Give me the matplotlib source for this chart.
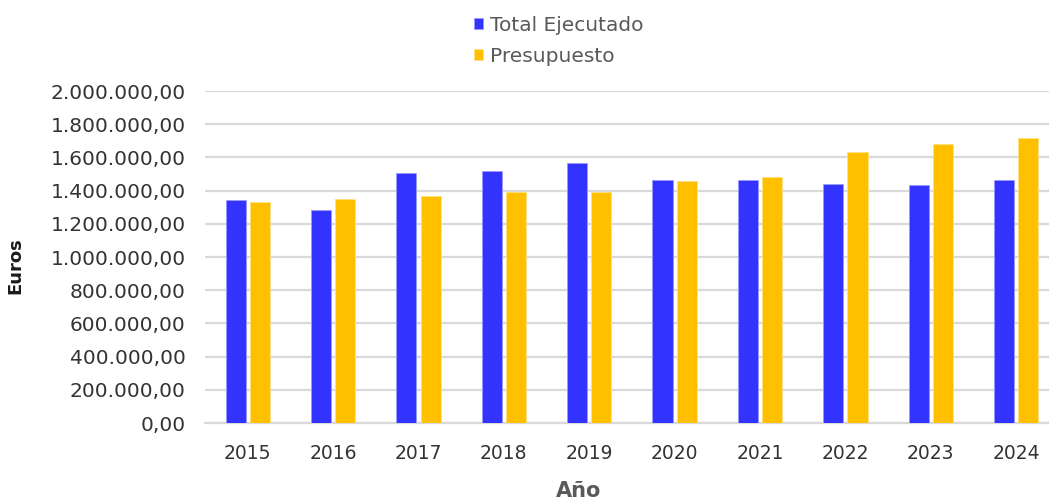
import numpy as np
import matplotlib.pyplot as plt
from matplotlib.ticker import FuncFormatter, MultipleLocator

years = ["2015", "2016", "2017", "2018", "2019", "2020", "2021", "2022", "2023", "2024"]
ejecutado = [1342000, 1282000, 1507000, 1516000, 1566000, 1466000, 1466000, 1441000, 1432000, 1466000]
presupuesto = [1332000, 1350000, 1366000, 1390000, 1390000, 1456000, 1483000, 1632000, 1682000, 1716000]

plt.rcParams['font.family'] = ['DejaVu Sans']

fig = plt.figure(figsize=(10.49, 5.04), dpi=100)
ax = fig.add_axes([0.1954, 0.1607, 0.814, 0.6587])

x = np.arange(len(years))
w = 0.235
off = 0.142
ax.bar(x - off, ejecutado, w, color='#3333FF', edgecolor='#9999FF', linewidth=0.6,
       label='Total Ejecutado', zorder=3)
ax.bar(x + off, presupuesto, w, color='#FFC000', edgecolor='#FFE080', linewidth=0.6,
       label='Presupuesto', zorder=3)

ax.set_xlim(-0.5, len(years) - 0.5)
ax.set_ylim(0, 2000000)
ax.yaxis.set_major_locator(MultipleLocator(200000))

def fmt(v, pos):
    s = f"{v:,.2f}"
    return s.replace(",", "X").replace(".", ",").replace("X", ".")

ax.yaxis.set_major_formatter(FuncFormatter(fmt))
ax.set_xticks(x)
ax.set_xticklabels(years)
ax.grid(axis='y', color='#D9D9D9', linewidth=1.6, zorder=0)
for s in ['top', 'right', 'left']:
    ax.spines[s].set_visible(False)
ax.spines['bottom'].set_color('#D9D9D9')
ax.spines['bottom'].set_linewidth(1.6)
ax.tick_params(axis='both', length=0, labelsize=13.5, colors='#333333')
ax.tick_params(axis='y', labelsize=14.5, pad=14)
ax.tick_params(axis='x', pad=15)

ax.set_ylabel('Euros', fontsize=13, fontweight='bold', color='#1a1a1a')
ax.yaxis.set_label_coords(-0.212, 0.473)
ax.set_xlabel('Año', fontsize=15, fontweight='bold', color='#595959')
ax.xaxis.set_label_coords(0.438, -0.175)

fig.legend(loc='upper center', bbox_to_anchor=(0.533, 1.005), ncol=1, frameon=False,
           fontsize=14.5, labelcolor='#595959', handlelength=0.45, handleheight=0.5,
           handletextpad=0.35, labelspacing=0.6)

fig.savefig('out.png', dpi=100)
